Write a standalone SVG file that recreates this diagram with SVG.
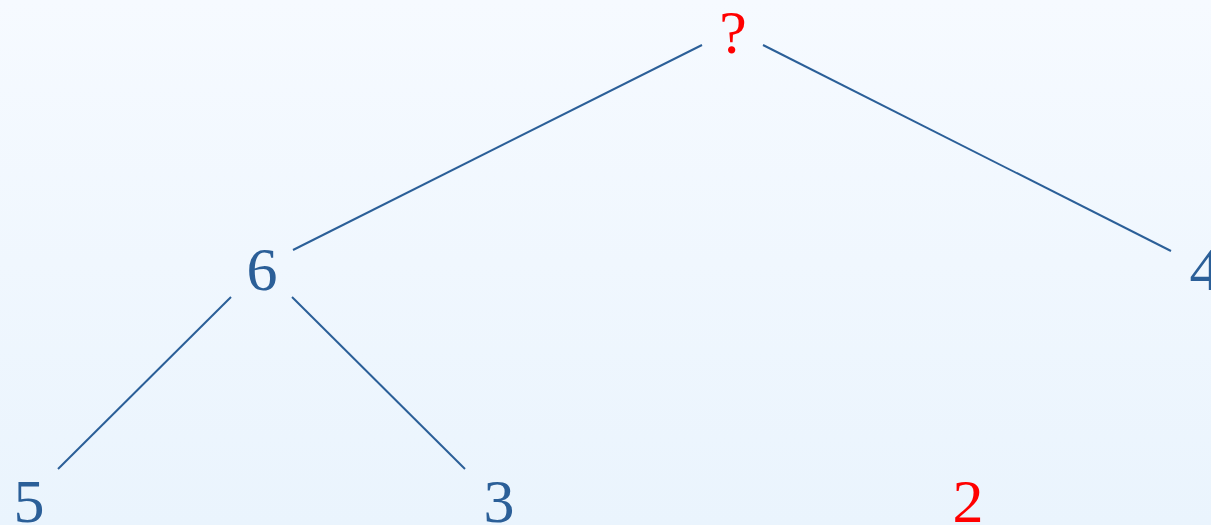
<svg xmlns="http://www.w3.org/2000/svg" width="1211" height="525" viewBox="0 0 1211 525">
<defs>
<linearGradient id="bg" x1="0" y1="0" x2="0" y2="1">
<stop offset="0" stop-color="#f6faff"/>
<stop offset="1" stop-color="#eaf4fd"/>
</linearGradient>
<style>
.t{font-size:62px;text-anchor:middle}
.b{fill:#2b5f98}
.r{fill:#ff0000}
.e{stroke:#2b5f98;stroke-width:2;fill:none}
</style>
</defs>
<rect width="1211" height="525" fill="url(#bg)"/>
<g id="connectors">
<line class="e" x1="702" y1="45" x2="293" y2="250"/>
<line class="e" x1="763" y1="45" x2="1171" y2="251"/>
<line class="e" x1="231" y1="297" x2="58" y2="469"/>
<line class="e" x1="292" y1="297" x2="465" y2="469"/>
</g>
<g font-family="'Liberation Serif', 'DejaVu Serif', serif">
<g id="root"><text class="t r" x="733" y="53">?</text></g>
<g id="n6"><text class="t b" x="262" y="290">6</text></g>
<g id="n4"><text class="t b" x="1205" y="290">4</text></g>
<g id="n5"><text class="t b" x="29" y="522">5</text></g>
<g id="n3"><text class="t b" x="499" y="522">3</text></g>
<g id="n2"><text class="t r" x="968" y="522">2</text></g>
</g>
</svg>
